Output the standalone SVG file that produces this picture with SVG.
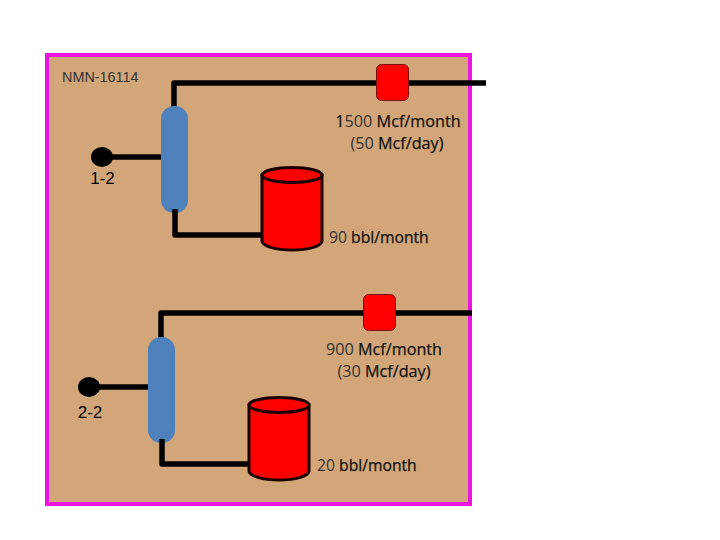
<svg xmlns="http://www.w3.org/2000/svg" width="720" height="540" viewBox="0 0 720 540">
<style>
.pipe{fill:none;stroke:#000;stroke-width:5.500;stroke-linejoin:round}
.vessel{fill:#4f81bd}
.dot{fill:#000}
.valve{fill:#f00;stroke:#7a1010;stroke-width:1}
.tank{fill:#f00;stroke:#1a0000;stroke-width:3}
.lbl{font-family:"Liberation Sans",Arial,sans-serif}
.val{font-family:"Open Sans",sans-serif;font-size:16.2px;fill:#111;text-anchor:middle;stroke:#111;stroke-width:.25}
.oil{font-size:15.700px;text-anchor:start}
.num{stroke:none;fill:#333}
</style>
<defs>
<g id="tank-shape">
<path class="tank" d="M0 8V74A30 9 0 0 0 60 74V8Z"/>
<ellipse class="tank" cx="30" cy="8" rx="30" ry="7.500"/>
</g>
</defs>
<rect id="frame" x="47" y="55" width="423" height="449" fill="#d2a679" stroke="#ee14e0" stroke-width="4"/>
<g id="connectors">
<path class="pipe" d="M174 108V83H486"/>
<path class="pipe" d="M102 157H163"/>
<path class="pipe" d="M175 209V235H263"/>
<path class="pipe" d="M161 339V313H472"/>
<path class="pipe" d="M89 387H150"/>
<path class="pipe" d="M162 439V464H250"/>
</g>
<g id="label-lease"><text class="lbl" x="62" y="82" font-size="14.400" fill="#333">NMN-16114</text></g>
<g id="well-1"><ellipse class="dot" cx="102" cy="157" rx="11" ry="10"/><text class="lbl" x="102.500" y="184" font-size="17" text-anchor="middle" fill="#000">1-2</text></g>
<g id="separator-1"><rect class="vessel" x="161" y="106" width="27" height="107" rx="13" ry="13"/><path class="pipe" d="M175 209V213"/></g>
<g id="tank-1"><use href="#tank-shape" x="262" y="167"/></g>
<g id="meter-1"><rect class="valve" x="376.500" y="64.500" width="32" height="36" rx="5"/></g>
<g id="label-gas-1"><text class="val" x="398" y="127"><tspan>1</tspan><tspan class="num">500</tspan> Mcf/month</text><text class="val" x="397" y="149"><tspan class="num">(50</tspan> Mcf/day)</text></g>
<g id="label-oil-1"><text class="val oil" x="329" y="243"><tspan class="num">90</tspan> bbl/month</text></g>
<g id="well-2"><ellipse class="dot" cx="89" cy="387" rx="11" ry="10"/><text class="lbl" x="90" y="418" font-size="17" text-anchor="middle" fill="#000">2-2</text></g>
<g id="separator-2"><rect class="vessel" x="148" y="337" width="27" height="106" rx="13" ry="13"/><path class="pipe" d="M162 439V443"/></g>
<g id="tank-2"><use href="#tank-shape" x="249" y="397"/></g>
<g id="meter-2"><rect class="valve" x="363.500" y="294.500" width="32" height="36" rx="5"/></g>
<g id="label-gas-2"><text class="val" x="384" y="355"><tspan class="num">900</tspan> Mcf/month</text><text class="val" x="384" y="377"><tspan class="num">(30</tspan> Mcf/day)</text></g>
<g id="label-oil-2"><text class="val oil" x="317" y="471"><tspan class="num">20</tspan> bbl/month</text></g>
</svg>
